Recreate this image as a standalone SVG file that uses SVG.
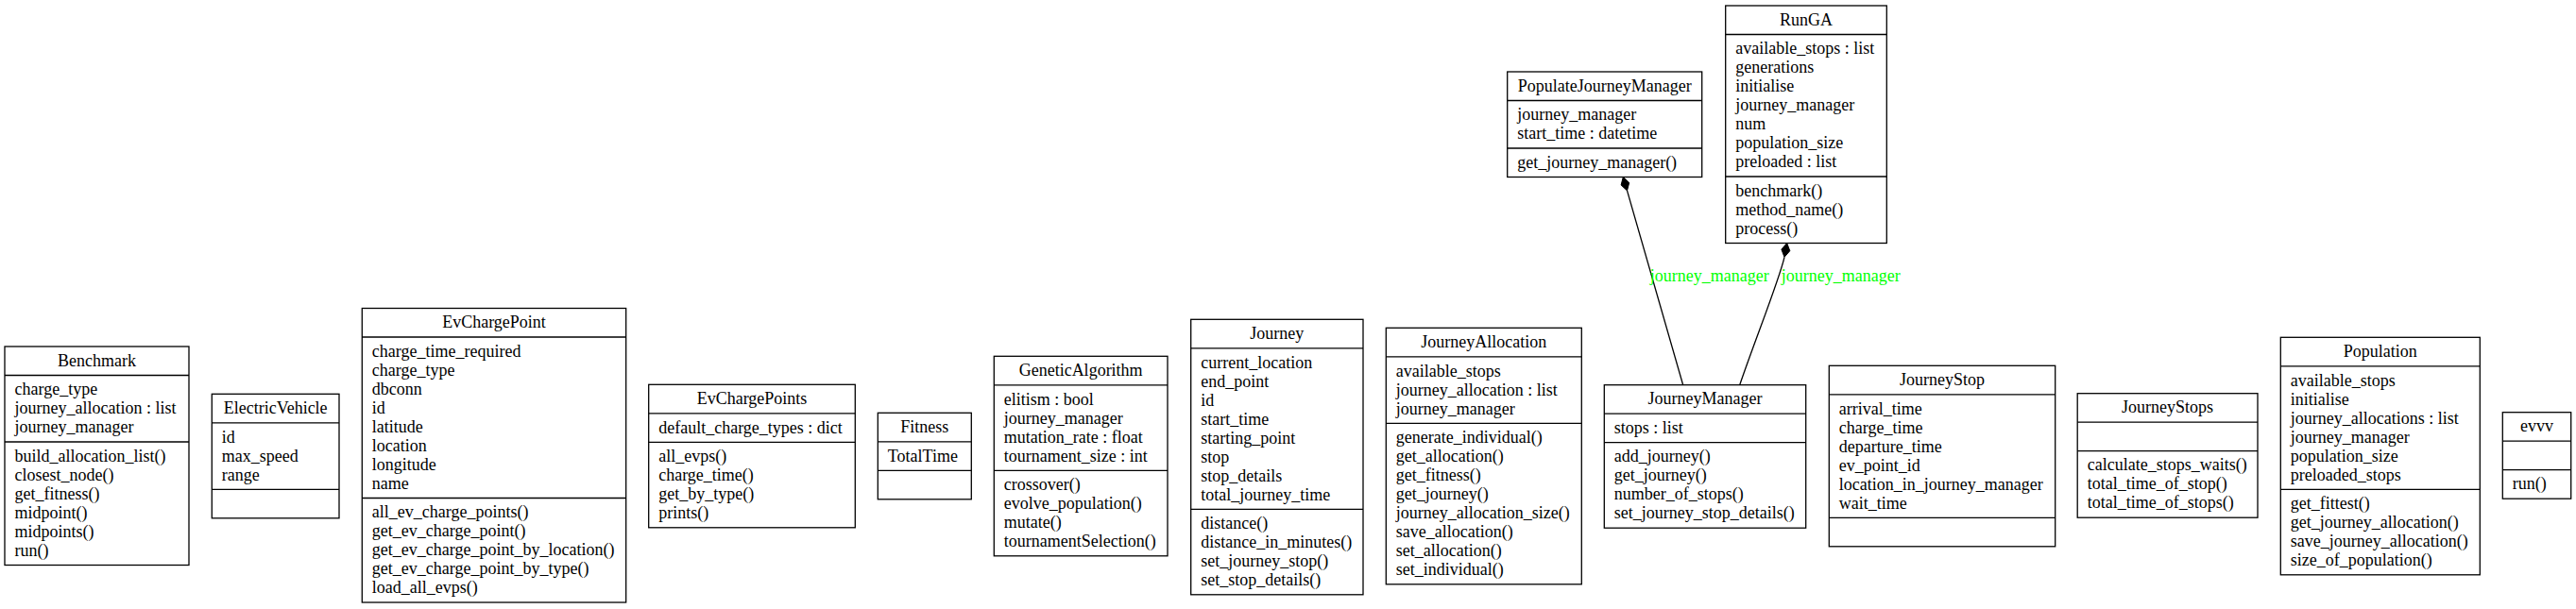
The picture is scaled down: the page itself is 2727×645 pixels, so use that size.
<svg xmlns="http://www.w3.org/2000/svg" width="2727" height="645" viewBox="0 0 2727 645">
<style>
rect{fill:#fff;stroke:#000;stroke-width:1.3}
line.d{stroke:#000;stroke-width:1.3}
text{font-family:"Liberation Serif","Times New Roman",serif;font-size:18px;fill:#000}
text.c{text-anchor:middle}
text.lbl{fill:#00ff00}
.edge{fill:none;stroke:#000;stroke-width:1.3}
.dia{fill:#000;stroke:#000;stroke-width:1}
</style>
<rect x="0" y="0" width="2727" height="645" style="fill:#fff;stroke:none"/>

<g id="Benchmark">
<rect x="5" y="367" width="195" height="231.5"/>
<line class="d" x1="5" y1="397.5" x2="200" y2="397.5"/><line class="d" x1="5" y1="468" x2="200" y2="468"/>
<text class="c" x="102.5" y="387.7">Benchmark</text>
<text x="15.5" y="418.2">charge_type</text><text x="15.5" y="438.2">journey_allocation : list</text><text x="15.5" y="458.2">journey_manager</text>
<text x="15.5" y="488.7">build_allocation_list()</text><text x="15.5" y="508.7">closest_node()</text><text x="15.5" y="528.7">get_fitness()</text><text x="15.5" y="548.7">midpoint()</text><text x="15.5" y="568.7">midpoints()</text><text x="15.5" y="588.7">run()</text>
</g>

<g id="ElectricVehicle">
<rect x="224.3" y="417.3" width="134.7" height="131.5"/>
<line class="d" x1="224.3" y1="447.8" x2="359" y2="447.8"/><line class="d" x1="224.3" y1="518.3" x2="359" y2="518.3"/>
<text class="c" x="291.65" y="438">ElectricVehicle</text>
<text x="234.8" y="468.5">id</text><text x="234.8" y="488.5">max_speed</text><text x="234.8" y="508.5">range</text>
</g>

<g id="EvChargePoint">
<rect x="383.3" y="326.5" width="279.4" height="311.5"/>
<line class="d" x1="383.3" y1="357" x2="662.7" y2="357"/><line class="d" x1="383.3" y1="527.5" x2="662.7" y2="527.5"/>
<text class="c" x="523" y="347.2">EvChargePoint</text>
<text x="393.8" y="377.7">charge_time_required</text><text x="393.8" y="397.7">charge_type</text><text x="393.8" y="417.7">dbconn</text><text x="393.8" y="437.7">id</text><text x="393.8" y="457.7">latitude</text><text x="393.8" y="477.7">location</text><text x="393.8" y="497.7">longitude</text><text x="393.8" y="517.7">name</text>
<text x="393.8" y="548.2">all_ev_charge_points()</text><text x="393.8" y="568.2">get_ev_charge_point()</text><text x="393.8" y="588.2">get_ev_charge_point_by_location()</text><text x="393.8" y="608.2">get_ev_charge_point_by_type()</text><text x="393.8" y="628.2">load_all_evps()</text>
</g>

<g id="EvChargePoints">
<rect x="686.7" y="407.3" width="218.6" height="151.5"/>
<line class="d" x1="686.7" y1="437.8" x2="905.3" y2="437.8"/><line class="d" x1="686.7" y1="468.3" x2="905.3" y2="468.3"/>
<text class="c" x="796" y="428">EvChargePoints</text>
<text x="697.2" y="458.5">default_charge_types : dict</text>
<text x="697.2" y="489">all_evps()</text><text x="697.2" y="509">charge_time()</text><text x="697.2" y="529">get_by_type()</text><text x="697.2" y="549">prints()</text>
</g>

<g id="Fitness">
<rect x="929.3" y="437.3" width="99" height="91.5"/>
<line class="d" x1="929.3" y1="467.8" x2="1028.3" y2="467.8"/><line class="d" x1="929.3" y1="498.3" x2="1028.3" y2="498.3"/>
<text class="c" x="978.8" y="458">Fitness</text>
<text x="939.8" y="488.5">TotalTime</text>
</g>

<g id="GeneticAlgorithm">
<rect x="1052.3" y="377.3" width="183.7" height="211.5"/>
<line class="d" x1="1052.3" y1="407.8" x2="1236" y2="407.8"/><line class="d" x1="1052.3" y1="498.3" x2="1236" y2="498.3"/>
<text class="c" x="1144.15" y="398">GeneticAlgorithm</text>
<text x="1062.8" y="428.5">elitism : bool</text><text x="1062.8" y="448.5">journey_manager</text><text x="1062.8" y="468.5">mutation_rate : float</text><text x="1062.8" y="488.5">tournament_size : int</text>
<text x="1062.8" y="519">crossover()</text><text x="1062.8" y="539">evolve_population()</text><text x="1062.8" y="559">mutate()</text><text x="1062.8" y="579">tournamentSelection()</text>
</g>

<g id="Journey">
<rect x="1260.7" y="338.3" width="182.3" height="291.5"/>
<line class="d" x1="1260.7" y1="368.8" x2="1443" y2="368.8"/><line class="d" x1="1260.7" y1="539.3" x2="1443" y2="539.3"/>
<text class="c" x="1351.85" y="359">Journey</text>
<text x="1271.2" y="389.5">current_location</text><text x="1271.2" y="409.5">end_point</text><text x="1271.2" y="429.5">id</text><text x="1271.2" y="449.5">start_time</text><text x="1271.2" y="469.5">starting_point</text><text x="1271.2" y="489.5">stop</text><text x="1271.2" y="509.5">stop_details</text><text x="1271.2" y="529.5">total_journey_time</text>
<text x="1271.2" y="560">distance()</text><text x="1271.2" y="580">distance_in_minutes()</text><text x="1271.2" y="600">set_journey_stop()</text><text x="1271.2" y="620">set_stop_details()</text>
</g>

<g id="JourneyAllocation">
<rect x="1467.3" y="347.3" width="207" height="271.5"/>
<line class="d" x1="1467.3" y1="377.8" x2="1674.3" y2="377.8"/><line class="d" x1="1467.3" y1="448.3" x2="1674.3" y2="448.3"/>
<text class="c" x="1570.8" y="368">JourneyAllocation</text>
<text x="1477.8" y="398.5">available_stops</text><text x="1477.8" y="418.5">journey_allocation : list</text><text x="1477.8" y="438.5">journey_manager</text>
<text x="1477.8" y="469">generate_individual()</text><text x="1477.8" y="489">get_allocation()</text><text x="1477.8" y="509">get_fitness()</text><text x="1477.8" y="529">get_journey()</text><text x="1477.8" y="549">journey_allocation_size()</text><text x="1477.8" y="569">save_allocation()</text><text x="1477.8" y="589">set_allocation()</text><text x="1477.8" y="609">set_individual()</text>
</g>

<g id="JourneyManager">
<rect x="1698.3" y="407.7" width="213.4" height="151.5"/>
<line class="d" x1="1698.3" y1="438.2" x2="1911.7" y2="438.2"/><line class="d" x1="1698.3" y1="468.7" x2="1911.7" y2="468.7"/>
<text class="c" x="1805" y="428.4">JourneyManager</text>
<text x="1708.8" y="458.9">stops : list</text>
<text x="1708.8" y="489.4">add_journey()</text><text x="1708.8" y="509.4">get_journey()</text><text x="1708.8" y="529.4">number_of_stops()</text><text x="1708.8" y="549.4">set_journey_stop_details()</text>
</g>

<g id="JourneyStop">
<rect x="1936.3" y="387.3" width="239.4" height="191.5"/>
<line class="d" x1="1936.3" y1="417.8" x2="2175.7" y2="417.8"/><line class="d" x1="1936.3" y1="548.3" x2="2175.7" y2="548.3"/>
<text class="c" x="2056" y="408">JourneyStop</text>
<text x="1946.8" y="438.5">arrival_time</text><text x="1946.8" y="458.5">charge_time</text><text x="1946.8" y="478.5">departure_time</text><text x="1946.8" y="498.5">ev_point_id</text><text x="1946.8" y="518.5">location_in_journey_manager</text><text x="1946.8" y="538.5">wait_time</text>
</g>

<g id="JourneyStops">
<rect x="2199.2" y="416.7" width="190.8" height="131.5"/>
<line class="d" x1="2199.2" y1="447.2" x2="2390" y2="447.2"/><line class="d" x1="2199.2" y1="477.7" x2="2390" y2="477.7"/>
<text class="c" x="2294.6" y="437.4">JourneyStops</text>
<text x="2209.7" y="498.4">calculate_stops_waits()</text><text x="2209.7" y="518.4">total_time_of_stop()</text><text x="2209.7" y="538.4">total_time_of_stops()</text>
</g>

<g id="Population">
<rect x="2414.3" y="357.3" width="211" height="251.5"/>
<line class="d" x1="2414.3" y1="387.8" x2="2625.3" y2="387.8"/><line class="d" x1="2414.3" y1="518.3" x2="2625.3" y2="518.3"/>
<text class="c" x="2519.8" y="378">Population</text>
<text x="2424.8" y="408.5">available_stops</text><text x="2424.8" y="428.5">initialise</text><text x="2424.8" y="448.5">journey_allocations : list</text><text x="2424.8" y="468.5">journey_manager</text><text x="2424.8" y="488.5">population_size</text><text x="2424.8" y="508.5">preloaded_stops</text>
<text x="2424.8" y="539">get_fittest()</text><text x="2424.8" y="559">get_journey_allocation()</text><text x="2424.8" y="579">save_journey_allocation()</text><text x="2424.8" y="599">size_of_population()</text>
</g>

<g id="evvv">
<rect x="2649.3" y="436.7" width="72.4" height="91.5"/>
<line class="d" x1="2649.3" y1="467.2" x2="2721.7" y2="467.2"/><line class="d" x1="2649.3" y1="497.7" x2="2721.7" y2="497.7"/>
<text class="c" x="2685.5" y="457.4">evvv</text>
<text x="2659.8" y="518.4">run()</text>
</g>

<g id="PopulateJourneyManager">
<rect x="1595.7" y="76" width="206" height="111.5"/>
<line class="d" x1="1595.7" y1="106.5" x2="1801.7" y2="106.5"/><line class="d" x1="1595.7" y1="157" x2="1801.7" y2="157"/>
<text class="c" x="1698.7" y="96.7">PopulateJourneyManager</text>
<text x="1606.2" y="127.2">journey_manager</text><text x="1606.2" y="147.2">start_time : datetime</text>
<text x="1606.2" y="177.7">get_journey_manager()</text>
</g>

<g id="RunGA">
<rect x="1826.7" y="6" width="170.6" height="251.5"/>
<line class="d" x1="1826.7" y1="36.5" x2="1997.3" y2="36.5"/><line class="d" x1="1826.7" y1="187" x2="1997.3" y2="187"/>
<text class="c" x="1912" y="26.7">RunGA</text>
<text x="1837.2" y="57.2">available_stops : list</text><text x="1837.2" y="77.2">generations</text><text x="1837.2" y="97.2">initialise</text><text x="1837.2" y="117.2">journey_manager</text><text x="1837.2" y="137.2">num</text><text x="1837.2" y="157.2">population_size</text><text x="1837.2" y="177.2">preloaded : list</text>
<text x="1837.2" y="207.7">benchmark()</text><text x="1837.2" y="227.7">method_name()</text><text x="1837.2" y="247.7">process()</text>
</g>

<g id="connectors">
<path class="edge" d="M1722.5,201.9 L1781.7,407.7"/>
<polygon class="dia" points="1718.3,187.5 1724.7,193.5 1722.5,201.9 1716.1,196.0"/>
<text class="lbl" x="1746.7" y="297.7">journey_manager</text>
<path class="edge" d="M1889,272.3 C1884,295 1858,360 1841.7,407.7"/>
<polygon class="dia" points="1891.7,257.5 1894.8,265.7 1889,272.3 1885.9,264.1"/>
<text class="lbl" x="1885.7" y="297.7">journey_manager</text>
</g>
</svg>
